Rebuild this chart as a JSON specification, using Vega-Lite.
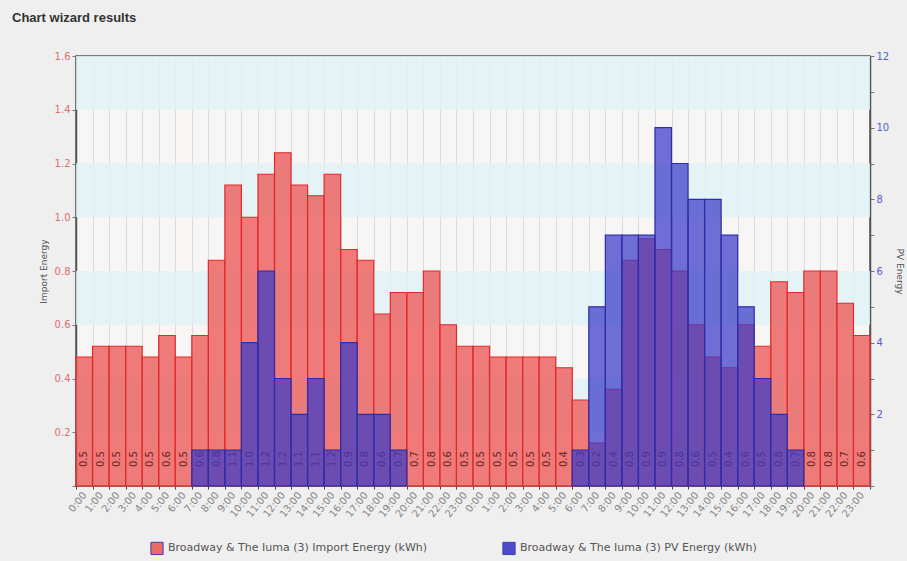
{
  "$schema": "https://vega.github.io/schema/vega-lite/v6.json",
  "width": 794,
  "height": 430,
  "autosize": "none",
  "padding": {"left": 76, "top": 56, "right": 37, "bottom": 75},
  "background": "#efefef",
  "title": {
    "text": "Chart wizard results",
    "anchor": "start",
    "frame": "group",
    "dx": -64,
    "offset": 26,
    "font": "Liberation Sans",
    "fontSize": 13,
    "fontWeight": "bold",
    "color": "#333333"
  },
  "config": {
    "font": "DejaVu Sans",
    "view": {"fill": "#f8f5f5", "stroke": "#555555", "strokeWidth": 1.5}
  },
  "datasets": {
    "hours": [
      {"slot": "d1 0:00", "imp": 0.48, "pv": null},
      {"slot": "d1 1:00", "imp": 0.52, "pv": null},
      {"slot": "d1 2:00", "imp": 0.52, "pv": null},
      {"slot": "d1 3:00", "imp": 0.52, "pv": null},
      {"slot": "d1 4:00", "imp": 0.48, "pv": null},
      {"slot": "d1 5:00", "imp": 0.56, "pv": null},
      {"slot": "d1 6:00", "imp": 0.48, "pv": null},
      {"slot": "d1 7:00", "imp": 0.56, "pv": 1},
      {"slot": "d1 8:00", "imp": 0.84, "pv": 1},
      {"slot": "d1 9:00", "imp": 1.12, "pv": 1},
      {"slot": "d1 10:00", "imp": 1.0, "pv": 4},
      {"slot": "d1 11:00", "imp": 1.16, "pv": 6},
      {"slot": "d1 12:00", "imp": 1.24, "pv": 3},
      {"slot": "d1 13:00", "imp": 1.12, "pv": 2},
      {"slot": "d1 14:00", "imp": 1.08, "pv": 3},
      {"slot": "d1 15:00", "imp": 1.16, "pv": 1},
      {"slot": "d1 16:00", "imp": 0.88, "pv": 4},
      {"slot": "d1 17:00", "imp": 0.84, "pv": 2},
      {"slot": "d1 18:00", "imp": 0.64, "pv": 2},
      {"slot": "d1 19:00", "imp": 0.72, "pv": 1},
      {"slot": "d1 20:00", "imp": 0.72, "pv": null},
      {"slot": "d1 21:00", "imp": 0.8, "pv": null},
      {"slot": "d1 22:00", "imp": 0.6, "pv": null},
      {"slot": "d1 23:00", "imp": 0.52, "pv": null},
      {"slot": "d2 0:00", "imp": 0.52, "pv": null},
      {"slot": "d2 1:00", "imp": 0.48, "pv": null},
      {"slot": "d2 2:00", "imp": 0.48, "pv": null},
      {"slot": "d2 3:00", "imp": 0.48, "pv": null},
      {"slot": "d2 4:00", "imp": 0.48, "pv": null},
      {"slot": "d2 5:00", "imp": 0.44, "pv": null},
      {"slot": "d2 6:00", "imp": 0.32, "pv": 1},
      {"slot": "d2 7:00", "imp": 0.16, "pv": 5},
      {"slot": "d2 8:00", "imp": 0.36, "pv": 7},
      {"slot": "d2 9:00", "imp": 0.84, "pv": 7},
      {"slot": "d2 10:00", "imp": 0.92, "pv": 7},
      {"slot": "d2 11:00", "imp": 0.88, "pv": 10},
      {"slot": "d2 12:00", "imp": 0.8, "pv": 9},
      {"slot": "d2 13:00", "imp": 0.6, "pv": 8},
      {"slot": "d2 14:00", "imp": 0.48, "pv": 8},
      {"slot": "d2 15:00", "imp": 0.44, "pv": 7},
      {"slot": "d2 16:00", "imp": 0.6, "pv": 5},
      {"slot": "d2 17:00", "imp": 0.52, "pv": 3},
      {"slot": "d2 18:00", "imp": 0.76, "pv": 2},
      {"slot": "d2 19:00", "imp": 0.72, "pv": 1},
      {"slot": "d2 20:00", "imp": 0.8, "pv": null},
      {"slot": "d2 21:00", "imp": 0.8, "pv": null},
      {"slot": "d2 22:00", "imp": 0.68, "pv": null},
      {"slot": "d2 23:00", "imp": 0.56, "pv": null}
    ],
    "bands": [
      {"lo": 0.2, "hi": 0.4},
      {"lo": 0.6, "hi": 0.8},
      {"lo": 1.0, "hi": 1.2},
      {"lo": 1.4, "hi": 1.6}
    ]
  },
  "data": {"name": "hours"},
  "layer": [
    {
      "layer": [
        {
          "data": {"name": "bands"},
          "mark": {"type": "rect", "color": "#dff2f6", "opacity": 0.85},
          "encoding": {
            "y": {"field": "lo", "type": "quantitative", "scale": {"domain": [0, 1.6], "nice": false}},
            "y2": {"field": "hi"}
          }
        },
        {
          "mark": {"type": "bar", "fillOpacity": 0.8, "stroke": "#e02a2a", "strokeWidth": 1.2},
          "encoding": {
            "x": {
              "field": "slot",
              "type": "ordinal",
              "sort": null,
              "scale": {"paddingInner": 0, "paddingOuter": 0},
              "axis": {
                "title": null,
                "labelExpr": "split(datum.label, ' ')[1]",
                "labelAngle": -52,
                "labelFontSize": 10,
                "labelColor": "#858585",
                "labelPadding": 4,
                "tickBand": "extent",
                "ticks": true,
                "tickSize": 3,
                "tickColor": "#444444",
                "grid": true,
                "gridColor": "#d6dcdf",
                "gridWidth": 1,
                "domain": false
              }
            },
            "y": {
              "field": "imp",
              "type": "quantitative",
              "scale": {"domain": [0, 1.6], "nice": false},
              "axis": {
                "title": "Import Energy",
                "titleFontSize": 9,
                "titleFontWeight": "normal",
                "titleColor": "#555555",
                "titlePadding": 6,
                "values": [0, 0.1, 0.2, 0.3, 0.4, 0.5, 0.6, 0.7, 0.8, 0.9, 1.0, 1.1, 1.2, 1.3, 1.4, 1.5, 1.6],
                "labelExpr": "datum.value > 0.05 && round(datum.value * 10) % 2 == 0 ? format(datum.value, '.1f') : ''",
                "labelColor": "#dc6e6e",
                "labelFontSize": 10,
                "tickSize": 4,
                "tickColor": "#777777",
                "domainColor": "#555555",
                "domainWidth": 1.5,
                "grid": false
              }
            },
            "color": {
              "datum": "Broadway & The Iuma (3) Import Energy (kWh)",
              "type": "nominal",
              "scale": {
                "domain": ["Broadway & The Iuma (3) Import Energy (kWh)", "Broadway & The Iuma (3) PV Energy (kWh)"],
                "range": ["#ec5b5b", "#3a3ac8"]
              },
              "legend": {
                "orient": "none",
                "legendX": 74,
                "legendY": 485,
                "direction": "horizontal",
                "title": null,
                "symbolType": "square",
                "symbolSize": 150,
                "symbolStrokeColor": "#555555",
                "symbolStrokeWidth": 1,
                "symbolOpacity": 0.9,
                "labelFontSize": 11,
                "labelColor": "#555555",
                "labelLimit": 400,
                "columnPadding": 72
              }
            }
          }
        },
        {
          "mark": {"type": "text", "angle": 270, "fontSize": 10, "color": "#6a1e1e"},
          "encoding": {
            "x": {"field": "slot", "type": "ordinal", "sort": null},
            "y": {"datum": 0.1, "type": "quantitative"},
            "text": {"field": "imp", "type": "quantitative", "format": ".1f"}
          }
        }
      ]
    },
    {
      "mark": {"type": "bar", "fillOpacity": 0.72, "stroke": "#2e2ea6", "strokeWidth": 1.2},
      "encoding": {
        "x": {"field": "slot", "type": "ordinal", "sort": null},
        "y": {
          "field": "pv",
          "type": "quantitative",
          "scale": {"domain": [0, 12], "nice": false},
          "axis": {
            "orient": "right",
            "title": "PV Energy",
            "titleFontSize": 9,
            "titleFontWeight": "normal",
            "titleColor": "#555555",
            "titlePadding": 6,
            "values": [0, 1, 2, 3, 4, 5, 6, 7, 8, 9, 10, 11, 12],
            "labelExpr": "datum.value > 0 && datum.value % 2 == 0 ? datum.label : ''",
            "labelColor": "#5a5acc",
            "labelFontSize": 10,
            "tickSize": 4,
            "tickColor": "#777777",
            "domainColor": "#555555",
            "domainWidth": 1.5,
            "grid": false
          }
        },
        "color": {"datum": "Broadway & The Iuma (3) PV Energy (kWh)", "type": "nominal"}
      }
    }
  ],
  "resolve": {"scale": {"y": "independent"}}
}
